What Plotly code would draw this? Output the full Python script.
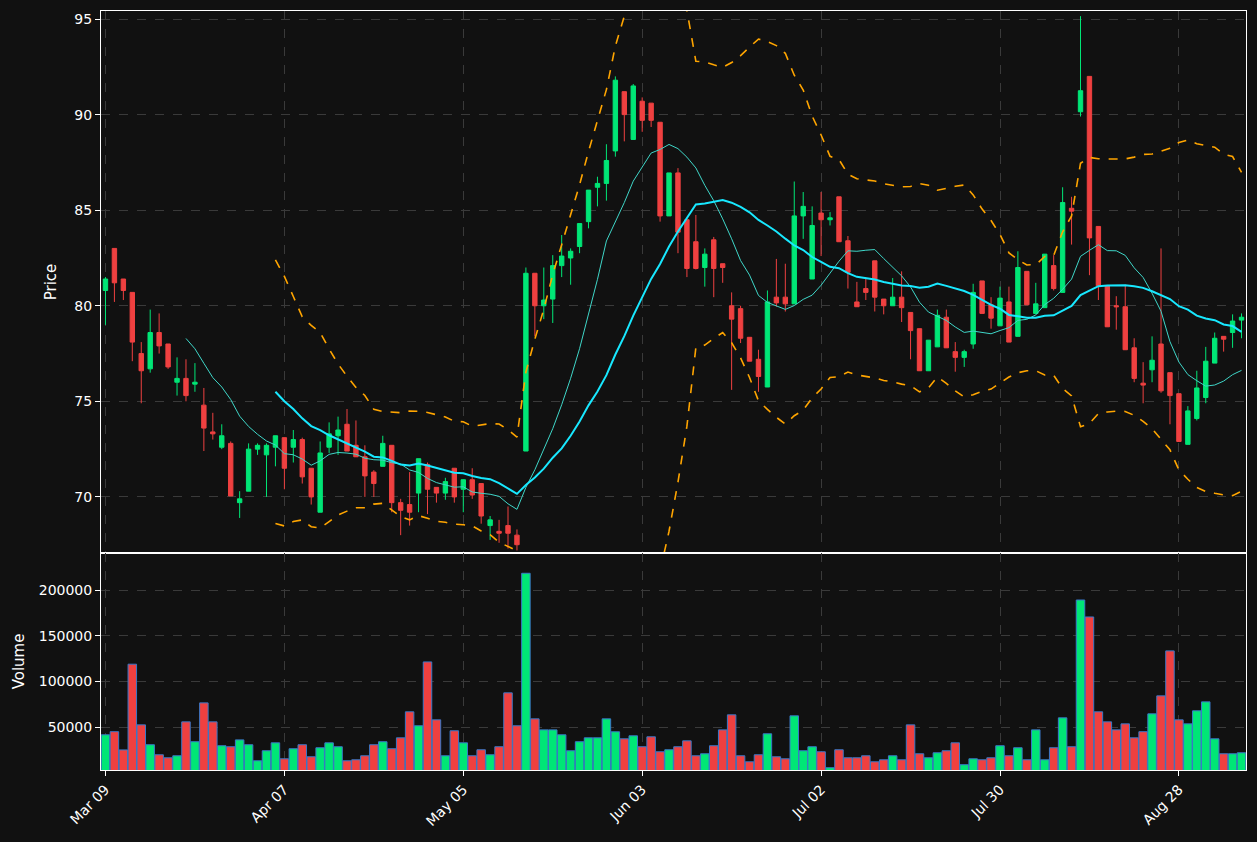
import numpy as np
import pandas as pd
import plotly.graph_objects as go
from plotly.subplots import make_subplots

opens = [80.8,83.0,81.4,80.7,77.5,76.7,78.6,78.0,76.0,76.2,75.9,74.8,73.4,72.6,72.8,69.7,70.3,72.5,72.2,72.6,
         73.1,72.6,73.0,71.5,69.2,72.6,73.2,73.8,72.7,72.1,71.3,71.6,72.7,69.7,69.6,70.2,71.7,70.5,70.2,71.5,
         70.4,70.9,70.7,68.5,68.2,68.5,68.0,72.4,81.7,80.0,80.35,82.1,82.5,83.1,84.4,86.2,86.4,88.1,91.2,88.7,
         90.7,90.6,89.6,84.7,86.95,84.5,83.35,82.0,83.45,82.2,80.0,79.85,78.35,77.2,75.75,80.45,80.45,80.1,84.7,81.4,
         84.85,84.5,85.7,83.4,80.2,80.9,82.35,80.35,80.0,80.45,79.65,78.8,76.6,77.85,79.4,77.6,77.3,78.0,81.3,80.05,
         78.95,80.2,78.4,81.8,79.6,79.9,82.1,80.7,85.1,90.15,92.0,84.15,81.05,80.0,79.95,77.8,75.95,76.65,78.0,76.5,
         75.4,72.75,74.1,75.2,77.0,78.4,78.6,79.25]
closes = [81.4,81.2,80.8,78.1,76.6,78.6,77.9,76.8,76.2,75.3,76.0,73.6,73.3,73.2,70.05,69.9,72.5,72.7,72.7,73.2,
          71.5,73.0,71.05,70.0,72.3,73.3,73.5,72.4,72.1,71.1,70.7,72.8,69.7,69.3,69.2,72.0,70.4,70.2,70.8,70.0,
          70.9,70.1,69.0,68.8,68.1,68.1,67.5,81.7,80.0,80.3,82.1,82.6,82.85,84.3,86.05,86.4,87.6,91.8,90.0,91.5,
          89.7,89.7,84.7,86.95,83.85,81.95,81.95,82.7,81.95,82.0,79.3,78.3,77.1,76.3,80.2,80.15,80.1,84.7,85.2,84.2,
          84.5,84.6,83.35,81.75,79.95,80.7,80.45,80.0,80.45,79.9,78.7,76.6,78.2,79.5,77.8,77.3,77.6,80.7,79.6,79.35,
          80.4,78.1,82.0,80.05,80.1,82.7,80.9,85.4,84.95,91.25,83.55,81.05,78.9,79.95,77.7,76.2,75.85,77.15,75.55,75.3,
          72.9,74.5,75.7,77.1,78.3,78.25,79.2,79.4]
highs = [81.5,83.0,81.4,80.7,78.1,79.8,79.6,78.0,77.3,77.2,77.0,75.7,74.4,73.8,72.9,70.3,72.8,72.8,72.8,73.2,
         73.1,73.5,73.1,71.5,72.9,73.9,74.2,74.6,74.0,72.7,71.4,73.2,72.7,69.9,71.3,72.0,71.8,70.5,71.0,71.5,
         70.9,71.5,70.7,69.0,68.8,69.5,68.3,82.0,81.7,82.0,82.65,83.7,83.0,84.3,86.05,86.75,88.45,92.0,91.2,91.6,
         90.9,90.6,89.6,86.95,87.2,84.5,84.75,83.0,83.6,82.2,80.7,80.0,78.35,77.7,80.8,82.45,82.2,86.5,85.95,85.2,
         85.95,84.9,85.7,83.65,81.25,81.45,82.35,80.35,81.45,81.8,79.65,78.8,78.2,79.8,79.8,78.1,77.7,81.15,81.3,80.45,
         81.0,81.0,82.85,81.8,81.2,82.7,82.65,86.2,85.7,95.15,92.0,84.15,81.05,80.5,81.1,78.3,77.05,78.4,83.0,76.5,
         75.4,74.75,76.6,77.85,78.6,78.4,79.55,79.6]
lows = [79.0,80.2,80.3,77.1,74.9,76.5,77.5,76.7,75.3,75.0,75.5,72.4,73.0,72.5,70.05,68.9,70.3,72.2,70.0,71.6,
        70.4,71.8,70.7,69.6,69.2,72.3,72.2,72.4,72.1,70.0,70.0,71.6,69.2,68.0,68.5,69.2,69.1,69.7,69.85,69.7,
        69.2,69.9,68.6,67.75,67.6,67.3,67.2,72.4,78.4,79.3,79.1,81.5,81.1,82.75,84.05,85.2,85.5,87.8,88.6,88.7,
        89.1,89.35,84.4,84.7,82.75,81.5,81.9,81.0,80.45,81.2,75.6,78.05,77.1,75.5,75.75,79.95,79.7,80.1,83.5,81.4,
        82.6,84.2,83.35,80.9,79.95,80.3,79.7,79.55,80.0,79.15,77.2,76.6,76.6,77.85,77.8,76.55,76.8,77.75,79.6,78.8,
        78.95,78.1,78.4,80.05,79.6,79.9,80.8,80.7,83.2,89.9,81.6,80.3,78.9,78.75,77.7,76.0,74.9,76.0,75.45,73.8,
        72.9,72.75,74.0,74.9,77.0,77.6,77.8,78.3]
volumes = [41600,45000,25000,119000,52500,30700,19700,16400,18600,55800,34000,76600,55800,29600,28500,36000,30700,13100,24100,32800,
           15300,26300,30700,17500,27400,32800,28500,13100,14200,18600,30700,34000,26300,38300,66800,51500,121500,58000,18600,46000,
           32800,18600,25200,19700,28500,87600,51500,218700,59100,47000,47000,41600,24100,34000,38300,38300,59100,44900,37200,40500,
           28500,39400,23000,25200,28500,35000,18600,20800,29600,47000,63500,18600,12000,19700,42700,17500,15300,62400,24100,28500,
           23000,5500,25200,16400,16400,18600,12000,14200,18600,14200,52500,20800,16400,21900,24100,32800,8800,15300,14200,16400,
           29600,18600,27400,14200,47000,14200,27400,60200,28500,189400,170800,66800,55800,47000,53600,38300,45000,64600,84300,133600,
           58000,53600,67900,77700,37200,20800,20800,21900]
tick_pos = [0, 20, 40, 60, 80, 100, 120]
tick_labels = ["Mar 09", "Apr 07", "May 05", "Jun 03", "Jul 02", "Jul 30", "Aug 28"]

GREEN = "#00e676"
RED = "#ef4040"
x = list(range(len(closes)))
c = pd.Series(closes)
ma10 = c.rolling(10).mean()
ma20 = c.rolling(20).mean()
sd20 = c.rolling(20).std()
upper = ma20 + 2 * sd20
lower = ma20 - 2 * sd20

fig = make_subplots(rows=2, cols=1, shared_xaxes=True, vertical_spacing=0,
                    row_heights=[0.714, 0.286])
fig.add_trace(go.Candlestick(x=x, open=opens, high=highs, low=lows, close=closes,
                             increasing=dict(line=dict(color=GREEN, width=1), fillcolor=GREEN),
                             decreasing=dict(line=dict(color=RED, width=1), fillcolor=RED),
                             whiskerwidth=0, showlegend=False), row=1, col=1)
fig.add_trace(go.Scatter(x=x, y=ma10, mode="lines", line=dict(color="#3fd6c8", width=1), showlegend=False), row=1, col=1)
fig.add_trace(go.Scatter(x=x, y=ma20, mode="lines", line=dict(color="#18e8ff", width=2), showlegend=False), row=1, col=1)
fig.add_trace(go.Scatter(x=x, y=upper, mode="lines", line=dict(color="#ffa500", width=1.6, dash="dash"), showlegend=False), row=1, col=1)
fig.add_trace(go.Scatter(x=x, y=lower, mode="lines", line=dict(color="#ffa500", width=1.6, dash="dash"), showlegend=False), row=1, col=1)
vcol = [GREEN if cl >= op else RED for op, cl in zip(opens, closes)]
fig.add_trace(go.Bar(x=x, y=volumes, marker=dict(color=vcol, line=dict(color="#3a78c8", width=1)),
                     width=0.95, showlegend=False), row=2, col=1)

axis_common = dict(showline=True, linecolor="white", linewidth=1, mirror=True,
                   gridcolor="#3a3a3a", griddash="dash", zeroline=False,
                   tickfont=dict(color="white", size=14), ticks="outside", tickcolor="white")
fig.update_xaxes(**axis_common, range=[-0.5, 127.5], tickvals=tick_pos, ticktext=tick_labels,
                 tickangle=-45, rangeslider_visible=False)
fig.update_xaxes(showticklabels=False, row=1, col=1)
fig.update_yaxes(**axis_common)
fig.update_yaxes(range=[67.07, 95.42], tickvals=[70, 75, 80, 85, 90, 95],
                 title=dict(text="Price", font=dict(color="white", size=15), standoff=14), row=1, col=1)
fig.update_yaxes(range=[3000, 241000], tickvals=[50000, 100000, 150000, 200000], tickformat="d",
                 title=dict(text="Volume", font=dict(color="white", size=15), standoff=10), row=2, col=1)
fig.update_layout(width=1257, height=842, paper_bgcolor="#111111", plot_bgcolor="#111111",
                  margin=dict(l=101, r=11, t=11, b=72), bargap=0.05,
                  font=dict(family="DejaVu Sans", color="white"))
fig.write_html("out.html", config={"displayModeBar": False},
               post_script="document.body.style.margin='0';document.body.style.background='#111111';")
